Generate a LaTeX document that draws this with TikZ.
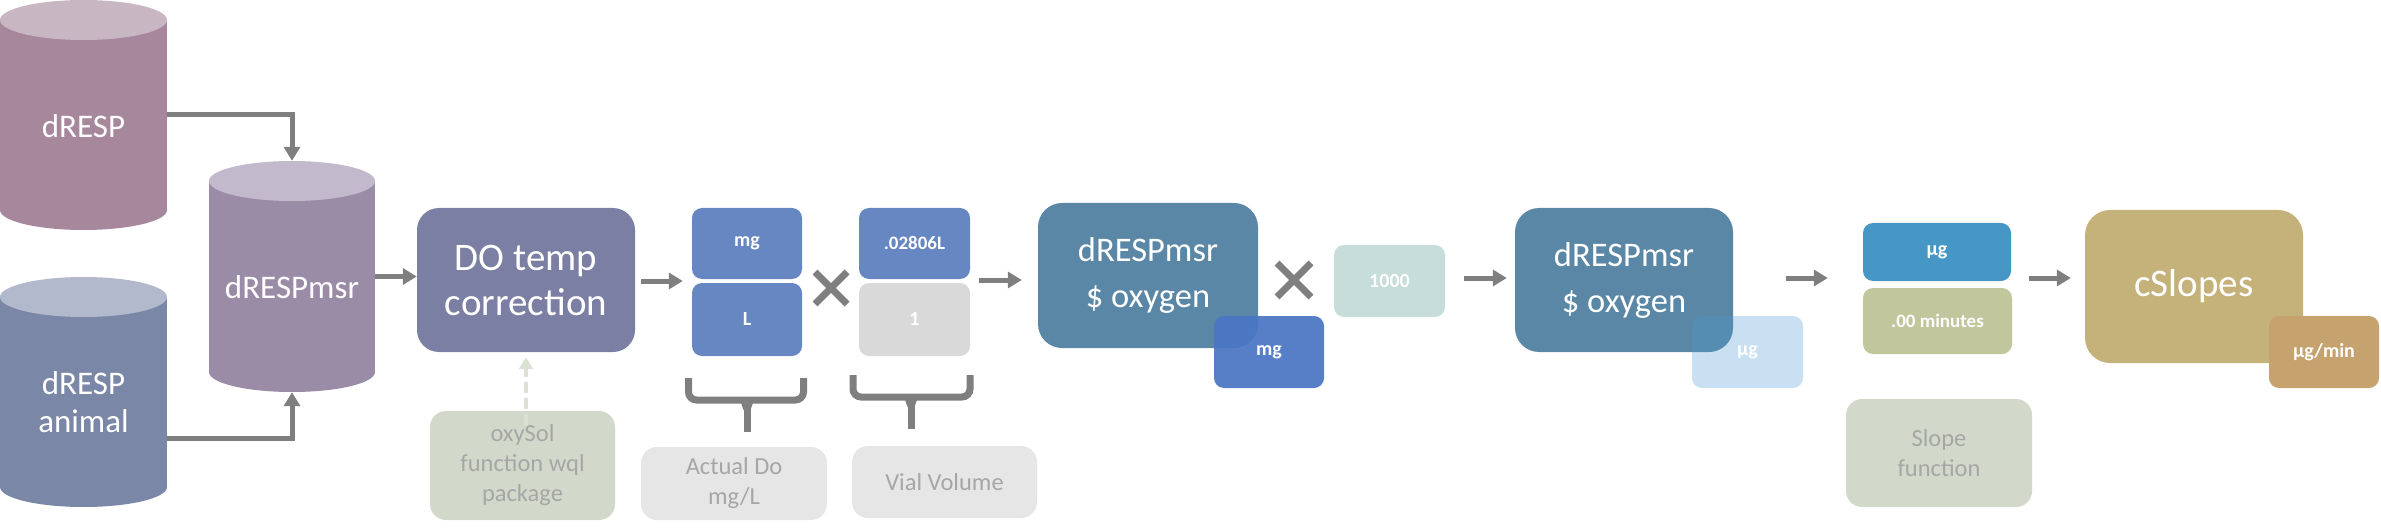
\documentclass[tikz,border=0pt]{standalone}
\usepackage{fontspec}
\setmainfont{Carlito}
\usetikzlibrary{arrows.meta}
\definecolor{arrowgray}{HTML}{7F7F7F}
\definecolor{labelgray}{HTML}{A6A6A6}
\definecolor{cylAbody}{HTML}{A6879C}
\definecolor{cylAtop}{HTML}{C8B6C3}
\definecolor{cylBbody}{HTML}{7B87A7}
\definecolor{cylBtop}{HTML}{B2B9CC}
\definecolor{cylCbody}{HTML}{9A8BA7}
\definecolor{cylCtop}{HTML}{C2B9CC}
\definecolor{cDO}{HTML}{7A7FA3}
\definecolor{cunit}{HTML}{6787C3}
\definecolor{cone}{HTML}{D9D9D9}
\definecolor{cbig}{HTML}{5A87A5}
\definecolor{cmg}{HTML}{4A75C4}
\definecolor{ck}{HTML}{C6DDD9}
\definecolor{cug}{HTML}{4A9AD0}
\definecolor{cugtop}{HTML}{4697C6}
\definecolor{cmin}{HTML}{C1C69C}
\definecolor{cslopes}{HTML}{C5B17A}
\definecolor{cugmin}{HTML}{C5A26E}
\definecolor{cgreen}{HTML}{D3D9CA}
\definecolor{clight}{HTML}{E6E6E6}
\definecolor{cdash}{HTML}{DCE2D3}
\begin{document}
\begin{tikzpicture}[x=1pt,y=-1pt,
  base/.style={inner sep=0pt, align=center, text=white},
  bigbox/.style={base, rounded corners=24pt, font=\fontsize{34.5}{46}\selectfont},
  smallbox/.style={base, rounded corners=10pt, font=\fontsize{20}{24}\selectfont\bfseries},
  graybox/.style={base, rounded corners=16pt, text=labelgray, font=\fontsize{24.5}{30}\selectfont},
  cylnode/.style={inner sep=0pt},
  cyltext/.style={base, font=\fontsize{33}{38}\selectfont},
  arr/.style={draw=arrowgray, line width=5pt, -{Triangle[length=14pt,width=16pt]}},
  dasharr/.style={draw=cdash, line width=4pt, dash pattern=on 11pt off 5pt, -{Triangle[length=12pt,width=14pt]}},
  cross/.style={draw=arrowgray, line width=7pt},
  brace/.style={draw=arrowgray, line width=7pt, rounded corners=8pt},
  stem/.style={draw=arrowgray, line width=7pt}
]
\useasboundingbox (0,0) rectangle (2381,529);

% ---------- cylinders ----------
\fill[cylAbody] (0,20) rectangle (167,210);
\fill[cylAbody] (83.5,210) ellipse [x radius=83.5, y radius=20];
\fill[cylAtop] (83.5,20) ellipse [x radius=83.5, y radius=20];
\node[cylnode, minimum width=167pt, minimum height=230pt] (dresp) at (83.5,115) {};
\node[cyltext] (dresptext) at (83.5,126) {dRESP};

\fill[cylBbody] (0,297) rectangle (167,487);
\fill[cylBbody] (83.5,487) ellipse [x radius=83.5, y radius=20];
\fill[cylBtop] (83.5,297) ellipse [x radius=83.5, y radius=20];
\node[cylnode, minimum width=167pt, minimum height=230pt] (anim) at (83.5,392) {};
\node[cyltext] (animtext) at (83.5,402) {dRESP\\animal};

\fill[cylCbody] (209,181) rectangle (375,372);
\fill[cylCbody] (292,372) ellipse [x radius=83, y radius=20];
\fill[cylCtop] (292,181) ellipse [x radius=83, y radius=20];
\node[cylnode, minimum width=166pt, minimum height=231pt] (msr) at (292,276.5) {};
\node[cyltext] (msrtext) at (292,287) {dRESPmsr};

% ---------- main boxes ----------
\node[bigbox, fill=cDO, rounded corners=22pt, minimum width=218pt, minimum height=144pt,
      font=\fontsize{39}{45}\selectfont] (do) at (526,280) {DO temp\\correction};
\node[smallbox, fill=cunit, minimum width=110pt, minimum height=71pt] (mgA) at (747,243.5) {mg};
\node[smallbox, fill=cunit, minimum width=110pt, minimum height=73pt] (L) at (747,319.5) {L};
\node[smallbox, fill=cunit, minimum width=111pt, minimum height=71pt,
      font=\fontsize{19}{23}\selectfont\bfseries] (vol) at (914.5,243.5) {.02806L};
\node[smallbox, fill=cone, minimum width=111pt, minimum height=73pt] (one) at (914.5,319.5) {1};

\node[bigbox, fill=cbig, minimum width=220pt, minimum height=145pt] (oxA) at (1148,275.5) {dRESPmsr\\\$ oxygen};
\node[smallbox, fill=cmg, fill opacity=0.93, text opacity=1, minimum width=110pt, minimum height=72pt] (mgB) at (1269,352) {mg};
\node[smallbox, fill=ck, minimum width=111pt, minimum height=72pt] (k) at (1389.5,281) {1000};

\node[bigbox, fill=cbig, minimum width=218pt, minimum height=144pt] (oxB) at (1624,280) {dRESPmsr\\\$ oxygen};
\node[smallbox, fill=cug, fill opacity=0.3, text opacity=1, minimum width=111pt, minimum height=72pt] (ugA) at (1747.5,352) {µg};

\node[smallbox, fill=cugtop, minimum width=148pt, minimum height=58pt] (ugB) at (1937,252) {µg};
\node[smallbox, fill=cmin, minimum width=149pt, minimum height=66pt,
      font=\fontsize{19}{23}\selectfont\bfseries] (min) at (1937.5,321) {.00 minutes};

\node[bigbox, fill=cslopes, rounded corners=25pt, minimum width=218pt, minimum height=153pt,
      font=\fontsize{39}{45}\selectfont] (cs) at (2194,286.5) {cSlopes};
\node[smallbox, fill=cugmin, minimum width=110pt, minimum height=72pt] (ugmin) at (2324,352) {µg/min};

% ---------- gray label boxes ----------
\node[graybox, fill=cgreen, minimum width=185pt, minimum height=109pt] (oxy) at (522.5,465.5) {oxySol\\function wql\\package};
\node[graybox, fill=clight, minimum width=186pt, minimum height=73pt] (act) at (734,483.5) {Actual Do\\mg/L};
\node[graybox, fill=clight, minimum width=185pt, minimum height=72pt] (vial) at (944.5,482) {Vial Volume};
\node[graybox, fill=cgreen, minimum width=186pt, minimum height=108pt] (slope) at (1939,453) {Slope\\function};

% ---------- connectors ----------
\draw[arr] (dresp.east) -| (msr.north);
\draw[arr] ([yshift=-46pt]anim.east) -| (msr.south);
\draw[arr] (msr.east) -- (msr.east -| do.west);
\draw[arr, shorten <=6pt, shorten >=9pt] ([yshift=-1pt]do.east) -- ([yshift=-1pt]do.east -| mgA.west);
\draw[arr, shorten <=9pt, shorten >=16pt] ([yshift=-4.5pt]oxA.west -| vol.east) -- ([yshift=-4.5pt]oxA.west);
\draw[arr, shorten <=19pt, shorten >=8pt] ([yshift=3pt]k.east) -- ([yshift=3pt]k.east -| oxB.west);
\draw[arr, shorten <=53pt, shorten >=35pt] ([yshift=2pt]oxB.east) -- ([yshift=2pt]oxB.east -| ugB.west);
\draw[arr, shorten <=17pt, shorten >=14pt] ([yshift=8.5pt]cs.west -| min.east) -- ([yshift=8.5pt]cs.west);
\draw[dasharr] ([yshift=-14pt]oxy.north -| do.south) -- ([yshift=-5pt]do.south);

% ---------- multiplication signs ----------
\draw[cross] (831,288) +(-16,-16) -- +(16,16) +(-16,16) -- +(16,-16);
\draw[cross] (1294,280) +(-17,-17) -- +(17,17) +(-17,17) -- +(17,-17);

% ---------- brackets ----------
\draw[brace] (688.5,378) -- (688.5,400) -- (803.5,400) -- (803.5,378);
\draw[stem] (747,400) -- (747,432);
\fill[arrowgray] (739,397) -- (755,397) -- (750.5,410) -- (743.5,410) -- cycle;
\draw[brace] (853,375) -- (853,397) -- (970,397) -- (970,375);
\draw[stem] (911,397) -- (911,429);
\fill[arrowgray] (903,394) -- (919,394) -- (914.5,407) -- (907.5,407) -- cycle;
\end{tikzpicture}
\end{document}
